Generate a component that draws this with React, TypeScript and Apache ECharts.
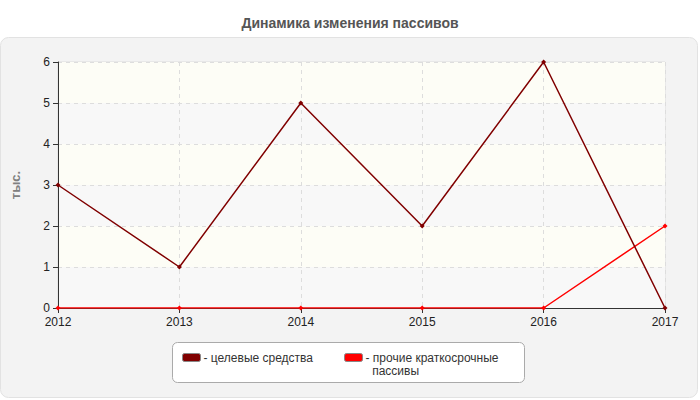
import React, { useEffect, useRef } from "react";
import * as echarts from "echarts";

const years = ["2012", "2013", "2014", "2015", "2016", "2017"];
const targetFunds = [3, 1, 5, 2, 6, 0];
const otherShortTerm = [0, 0, 0, 0, 0, 2];
const seriesNames = ["целевые средства", "прочие краткосрочные пассивы"];
const legendLabels = ["- целевые средства", " \n- прочие краткосрочные\n  пассивы"];

export default function App() {
  const ref = useRef<HTMLDivElement>(null);
  useEffect(() => {
    document.body.style.margin = "0";
    const chart = echarts.init(ref.current!, null, { renderer: "svg" });
    chart.setOption({
      animation: false,
      textStyle: { fontFamily: "Arial, 'Liberation Sans', sans-serif" },
      title: {
        text: "Динамика изменения пассивов",
        left: "center",
        top: 11,
        textStyle: { fontSize: 14, fontWeight: "bold", color: "#555" },
      },
      graphic: [
        {
          type: "rect",
          shape: { x: 0.5, y: 37.5, width: 697, height: 360, r: 8 },
          style: { fill: "#f3f3f3", stroke: "#e2e2e2", lineWidth: 1 },
          z: -10,
        },
        {
          type: "rect",
          shape: { x: 172.5, y: 342.5, width: 352, height: 40, r: 5 },
          style: { fill: "#ffffff", stroke: "#aaaaaa", lineWidth: 1 },
          z: -5,
        },
      ],
      legend: {
        left: 182,
        top: 338,
        padding: 0,
        itemWidth: 18,
        itemHeight: 8,
        itemGap: 31,
        icon: "roundRect",
        align: "left",
        data: seriesNames,
        formatter: (name: string) => legendLabels[seriesNames.indexOf(name)],
        textStyle: {
          fontSize: 12,
          color: "#333",
          lineHeight: 13,
          padding: [0, 0, 0, -2],
        },
        itemStyle: { borderColor: "#888", borderWidth: 1 },
      },
      grid: {
        left: 58,
        right: 35,
        top: 62,
        bottom: 92,
        show: true,
        borderColor: "#dddddd",
        borderWidth: 1,
        backgroundColor: "#f9f9f9",
      },
      xAxis: {
        type: "category",
        data: years,
        boundaryGap: false,
        axisLine: { lineStyle: { color: "#333", width: 1 } },
        axisTick: { show: true, length: 5, lineStyle: { color: "#333" } },
        axisLabel: { color: "#222", fontSize: 12, margin: 8 },
        splitLine: { show: true, lineStyle: { color: "#dddddd", type: [4, 4] } },
      },
      yAxis: {
        type: "value",
        min: 0,
        max: 6,
        interval: 1,
        name: "тыс.",
        nameLocation: "middle",
        nameGap: 36,
        nameRotate: 90,
        nameTextStyle: { color: "#808080", fontSize: 13, fontWeight: "bold" },
        axisLine: { show: true, lineStyle: { color: "#333", width: 1 } },
        axisTick: { show: true, length: 5, lineStyle: { color: "#333" } },
        axisLabel: { color: "#222", fontSize: 12, margin: 8 },
        splitLine: { show: true, lineStyle: { color: "#dddddd", type: [4, 4] } },
        splitArea: { show: true, areaStyle: { color: ["#f8f8f8", "#fdfdf6"] } },
      },
      series: [
        {
          name: seriesNames[0],
          type: "line",
          data: targetFunds,
          color: "#800000",
          symbol: "diamond",
          symbolSize: 5,
          lineStyle: { width: 1.5, color: "#800000" },
          itemStyle: { color: "#800000" },
        },
        {
          name: seriesNames[1],
          type: "line",
          data: otherShortTerm,
          color: "#ff0000",
          symbol: "diamond",
          symbolSize: 5,
          lineStyle: { width: 1.5, color: "#ff0000" },
          itemStyle: { color: "#ff0000" },
          z: 1,
        },
      ],
    });
    return () => chart.dispose();
  }, []);
  return <div ref={ref} style={{ width: 700, height: 400 }} />;
}
